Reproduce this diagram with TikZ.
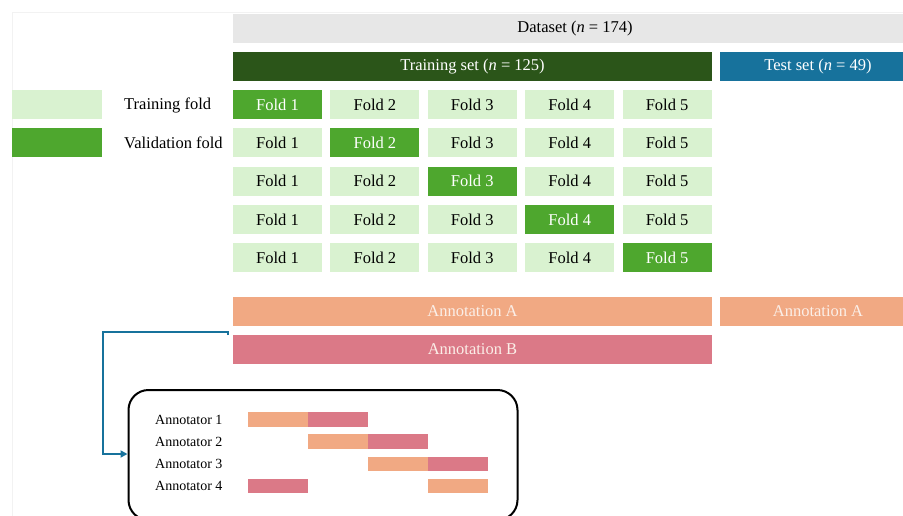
\documentclass[tikz,border=0pt]{standalone}
\usepackage{fontspec}
\setmainfont{Liberation Serif}
\usetikzlibrary{arrows.meta,calc}
\definecolor{lgreen}{HTML}{D9F2D0}
\definecolor{vgreen}{HTML}{4EA72E}
\definecolor{dgreen}{HTML}{2B5519}
\definecolor{tblue}{HTML}{17729C}
\definecolor{dgray}{HTML}{E7E7E7}
\definecolor{aorange}{HTML}{F1A983}
\definecolor{bpink}{HTML}{DB7987}
\definecolor{atext}{HTML}{FBEFE8}
\tikzset{
  bar/.style={rectangle, inner sep=0pt, minimum height=29pt, font=\fontsize{16.5}{19}\selectfont},
  foldbox/.style={bar, fill=lgreen, minimum width=89pt, text=black},
  valbox/.style={bar, fill=vgreen, minimum width=89pt, text=white},
  lbl/.style={inner sep=0pt, anchor=west, font=\fontsize{16.5}{19}\selectfont},
  albl/.style={inner sep=0pt, anchor=west, font=\fontsize{14}{17}\selectfont},
  seg/.style={rectangle, inner sep=0pt, minimum width=60pt, minimum height=14.5pt},
  conn/.style={draw=tblue, line width=2pt, -{Triangle[length=7pt,width=7pt]}},
}
\begin{document}
\begin{tikzpicture}[x=1pt,y=-1pt]
\useasboundingbox (0,0) rectangle (903,515);
\fill[white] (0,0) rectangle (903,515);
\draw[black!5, line width=0.8pt] (12,520) -- (12,12) -- (920,12);
% top bars
\node[bar, fill=dgray, minimum width=684pt, text=black] (ds) at (575,28.5) {Dataset (\textit{n} = 174)};
\node[bar, fill=dgreen, minimum width=479pt, text=white] (tr) at (472.5,66.5) {Training set (\textit{n} = 125)};
\node[bar, fill=tblue, minimum width=196pt, text=white] (te) at (818,66.5) {Test set (\textit{n} = 49)};
% legend
\node[bar, fill=lgreen, minimum width=90pt] (lg1) at (57,104.5) {};
\node[bar, fill=vgreen, minimum width=90pt] (lg2) at (57,142.8) {};
\node[lbl] (lt1) at (124,105) {Training fold};
\node[lbl] (lt2) at (124,143.3) {Validation fold};
% folds
\foreach \r in {1,...,5}{
  \foreach \c in {1,...,5}{
    \pgfmathsetmacro{\xx}{277.5+(\c-1)*97.4}
    \pgfmathsetmacro{\yy}{104.5+(\r-1)*38.3}
    \ifnum\r=\c
      \node[valbox] (f-\r-\c) at (\xx,\yy) {Fold \c};
    \else
      \node[foldbox] (f-\r-\c) at (\xx,\yy) {Fold \c};
    \fi
  }
}
% annotations
\node[bar, fill=aorange, minimum width=479pt, text=atext] (annA) at (472.5,311.5) {Annotation A};
\node[bar, fill=aorange, minimum width=196pt, text=atext] (annA2) at (818,311.5) {Annotation A};
\node[bar, fill=bpink, minimum width=479pt, text=atext] (annB) at (472.5,349.5) {Annotation B};
% annotator box
\node[draw=black, line width=2pt, rounded corners=20pt, minimum width=389pt, minimum height=130pt, inner sep=0pt] (box) at (323,455) {};
\node[albl] (a1) at (155,419.5) {Annotator 1};
\node[albl] (a2) at (155,441.7) {Annotator 2};
\node[albl] (a3) at (155,463.9) {Annotator 3};
\node[albl] (a4) at (155,486.1) {Annotator 4};
\node[seg, fill=aorange] (s11) at (278,419.5) {};
\node[seg, fill=bpink] (s12) at (338,419.5) {};
\node[seg, fill=aorange] (s21) at (338,441.7) {};
\node[seg, fill=bpink] (s22) at (398,441.7) {};
\node[seg, fill=aorange] (s31) at (398,463.9) {};
\node[seg, fill=bpink] (s32) at (458,463.9) {};
\node[seg, fill=bpink] (s41) at (278,486.1) {};
\node[seg, fill=aorange] (s42) at (458,486.1) {};
% connector
\coordinate (cs) at (228,335);
\coordinate (ce) at (box.west |- 0,454);
\draw[conn] (cs) -- ++(0,-3) -- (103,332) -- (103,454) -- (ce);
\end{tikzpicture}
\end{document}
